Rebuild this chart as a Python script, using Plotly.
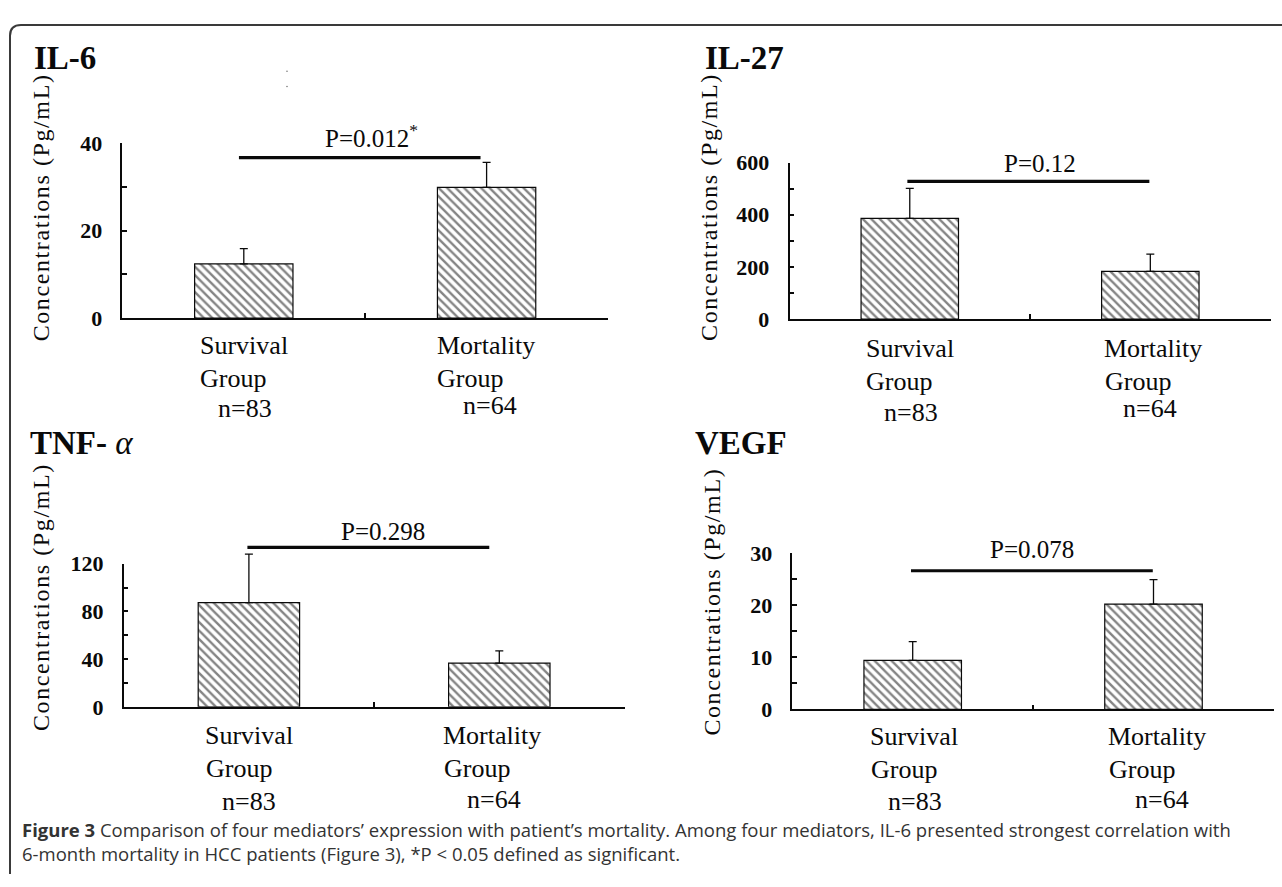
import plotly.graph_objects as go

W, H = 1282, 887


def px(x):
    return x / W


def py(y):
    return 1 - y / H


# ---------------- data ----------------
categories = ["Survival Group", "Mortality Group"]
n_labels = ["n=83", "n=64"]

il6_mean = [12.4, 29.9]
il6_err = [3.5, 5.7]
il27_mean = [386, 183]
il27_err = [115, 66]
tnf_mean = [87.4, 36.7]
tnf_err = [40.7, 10.3]
vegf_mean = [9.4, 20.2]
vegf_err = [3.6, 4.7]

panel_titles = ["<b>IL-6</b>", "<b>IL-27</b>", "<b>TNF-</b> <i>α</i>", "<b>VEGF</b>"]
p_labels = ["P=0.012<sup>*</sup>", "P=0.12", "P=0.298", "P=0.078"]
sig_levels = [36.7, 528, 133.6, 26.6]
y_max = [40, 600, 120, 30]
y_dtick = [20, 200, 40, 10]

means = [il6_mean, il27_mean, tnf_mean, vegf_mean]
errs = [il6_err, il27_err, tnf_err, vegf_err]

# ---------------- layout geometry (pixels) ----------------
# x0, x1, ybottom, ytop of each plot area
areas = [
    (122.4, 608.0, 315.0, 135.0),
    (789.5, 1270.6, 316.0, 155.0),
    (123.7, 624.5, 715.0, 567.7),
    (792.3, 1273.9, 717.7, 556.7),
]
EXT = 70  # extra pixels above each value axis for the annotation layer
sig_x = [(-0.02, 0.975), (-0.01, 0.996), (-0.006, 0.96), (-0.007, 0.997)]
p_x = [0.525, 0.54, 0.534, 0.495]
p_shift = [21.7, 17.6, 16.0, 21.7]
title_pos = [(32, 47.5), (703, 47.5), (28, 443), (693, 443)]
ytitle_pos = [(41, 201), (709.6, 201), (41, 602), (711.7, 607)]
# label positions: (left x, center y) for Survival, Group, n ; Mortality, Group, n
label_pos = [
    [(198, 343.3), (198, 376.7), (216, 408), (434.7, 343.3), (434.7, 376.7), (461, 405)],
    [(864.4, 346.7), (864.4, 380), (881.6, 411.7), (1102, 346.7), (1102.7, 380), (1121, 408.3)],
    [(202.9, 744), (204, 778.3), (220, 812), (440.8, 744), (442, 778), (465, 810)],
    [(868.5, 746), (869, 779.3), (886, 812), (1106, 746), (1106.8, 779), (1133, 810)],
]

SERIF = "Liberation Serif, Times New Roman, serif"
BLACK = "#0a0a0a"

fig = go.Figure()
annotations = []
layout_axes = {}

# visible panels: hatched bars on the real axes
for i in range(4):
    k = "" if i == 0 else str(i + 1)
    xa, ya = "x" + k, "y" + k
    x0, x1, yb, yt = areas[i]

    fig.add_trace(go.Bar(
        x=categories, y=means[i], xaxis=xa, yaxis=ya, width=0.405,
        marker=dict(color="white",
                    line=dict(color=BLACK, width=1.2),
                    pattern=dict(shape="\\", fgcolor=BLACK, bgcolor="white",
                                 size=6, solidity=0.4)),
        showlegend=False, hoverinfo="skip",
    ))

    layout_axes["xaxis" + k] = dict(
        domain=[px(x0), px(x1)], anchor=ya, type="category",
        range=[-0.5, 1.5], showline=True, linecolor=BLACK, linewidth=1.5,
        ticks="inside", tickson="boundaries", ticklen=5, tickwidth=1.5,
        tickcolor=BLACK, showticklabels=False, showgrid=False, zeroline=False,
        fixedrange=True,
    )
    layout_axes["yaxis" + k] = dict(
        domain=[py(yb), py(yt)], anchor=xa, range=[0, y_max[i]],
        dtick=y_dtick[i], tick0=0, showline=True, linecolor=BLACK, linewidth=1.5,
        ticks="inside", ticklen=5, tickwidth=1.5, tickcolor=BLACK,
        minor=dict(ticks="inside", dtick=y_dtick[i] / 2, ticklen=5,
                   tickwidth=1.5, tickcolor=BLACK),
        showgrid=False, zeroline=False, ticklabelstandoff=14,
        tickfont=dict(family=SERIF, size=22, color=BLACK),
        tickprefix="<b>", ticksuffix="</b>", fixedrange=True,
    )

# overlay panels: same scale, taller domain, hidden axes -> error bars, bracket, p text
for i in range(4):
    kd = str(i + 5)
    xd, yd = "x" + kd, "y" + kd
    x0, x1, yb, yt = areas[i]
    ext_ratio = (yb - (yt - EXT)) / (yb - yt)
    idx = list(range(len(categories)))

    fig.add_trace(go.Bar(
        x=idx, y=means[i], xaxis=xd, yaxis=yd, width=0.405,
        marker=dict(color="rgba(0,0,0,0)", line=dict(width=0)),
        error_y=dict(type="data", symmetric=False, array=errs[i],
                     arrayminus=[0, 0], color=BLACK, thickness=1.3, width=4),
        showlegend=False, hoverinfo="skip",
    ))
    # significance bar
    fig.add_trace(go.Scatter(
        x=list(sig_x[i]), y=[sig_levels[i], sig_levels[i]], xaxis=xd, yaxis=yd,
        mode="lines", line=dict(color=BLACK, width=3.2),
        showlegend=False, hoverinfo="skip",
    ))
    layout_axes["xaxis" + kd] = dict(
        domain=[px(x0), px(x1)], anchor=yd, type="linear",
        range=[-0.5, 1.5], visible=False, fixedrange=True,
        showgrid=False, zeroline=False,
    )
    layout_axes["yaxis" + kd] = dict(
        domain=[py(yb), py(yt - EXT)], anchor=xd,
        range=[0, y_max[i] * ext_ratio], visible=False, fixedrange=True,
        showgrid=False, zeroline=False,
    )

    # p-value text
    annotations.append(dict(
        xref=xd, yref=yd, x=p_x[i], y=sig_levels[i], yshift=p_shift[i],
        text=p_labels[i], showarrow=False, xanchor="center", yanchor="middle",
        font=dict(family=SERIF, size=25, color=BLACK),
    ))
    # panel title
    tx, ty = title_pos[i]
    annotations.append(dict(
        xref="paper", yref="paper", x=px(tx), y=py(ty), text=panel_titles[i],
        showarrow=False, xanchor="left", yanchor="middle",
        font=dict(family=SERIF, size=33, color=BLACK),
    ))
    # y axis title
    yx, yy = ytitle_pos[i]
    annotations.append(dict(
        xref="paper", yref="paper", x=px(yx), y=py(yy),
        text='<span style="letter-spacing:1.6px">Concentrations (Pg/mL)</span>',
        textangle=-90, showarrow=False, xanchor="center", yanchor="middle",
        font=dict(family=SERIF, size=24, color=BLACK),
    ))
    # category labels
    texts = ["Survival", "Group", n_labels[0], "Mortality", "Group", n_labels[1]]
    for t, (lx, ly) in zip(texts, label_pos[i]):
        annotations.append(dict(
            xref="paper", yref="paper", x=px(lx), y=py(ly), text=t,
            showarrow=False, xanchor="left", yanchor="middle",
            font=dict(family=SERIF, size=26, color=BLACK),
        ))

# caption (one text block, two lines)
CAP = "Open Sans, Noto Sans, sans-serif"
annotations.append(dict(
    xref="paper", yref="paper", x=px(20), y=py(854), align="left",
    text="<b>Figure 3</b> Comparison of four mediators’ expression with patient’s mortality. "
         "Among four mediators, IL-6 presented strongest correlation with<br>"
         "6-month mortality in HCC patients (Figure 3), *P &lt; 0.05 defined as significant.",
    showarrow=False, xanchor="left", yanchor="middle",
    font=dict(family=CAP, size=18.5, color="#333333"),
))

# frame: left + top border with rounded top-left corner
r = 11
frame_path = (
    f"M {px(10)},{py(887)} L {px(10)},{py(13.5 + r)} "
    f"Q {px(10)},{py(13.5)} {px(10 + r)},{py(13.5)} L {px(1282)},{py(13.5)}"
)
shapes = [dict(type="path", xref="paper", yref="paper", path=frame_path,
               line=dict(color="#3a3a3a", width=2))]
# two stray specks in the IL-6 panel of the original scan
for dy in (61, 76.7):
    shapes.append(dict(type="circle", xref="paper", yref="paper",
                       x0=px(286.2), x1=px(287.8), y0=py(dy + 0.8), y1=py(dy - 0.8),
                       fillcolor="#777777", line=dict(width=0)))

fig.update_layout(
    width=W, height=H, autosize=False,
    margin=dict(l=0, r=0, t=0, b=0),
    paper_bgcolor="white", plot_bgcolor="rgba(0,0,0,0)",
    showlegend=False,
    annotations=annotations,
    shapes=shapes,
    **layout_axes,
)

fig.write_html(
    "out.html",
    config={"displayModeBar": False},
    post_script="document.body.style.margin='0';document.body.style.overflow='hidden';",
)
